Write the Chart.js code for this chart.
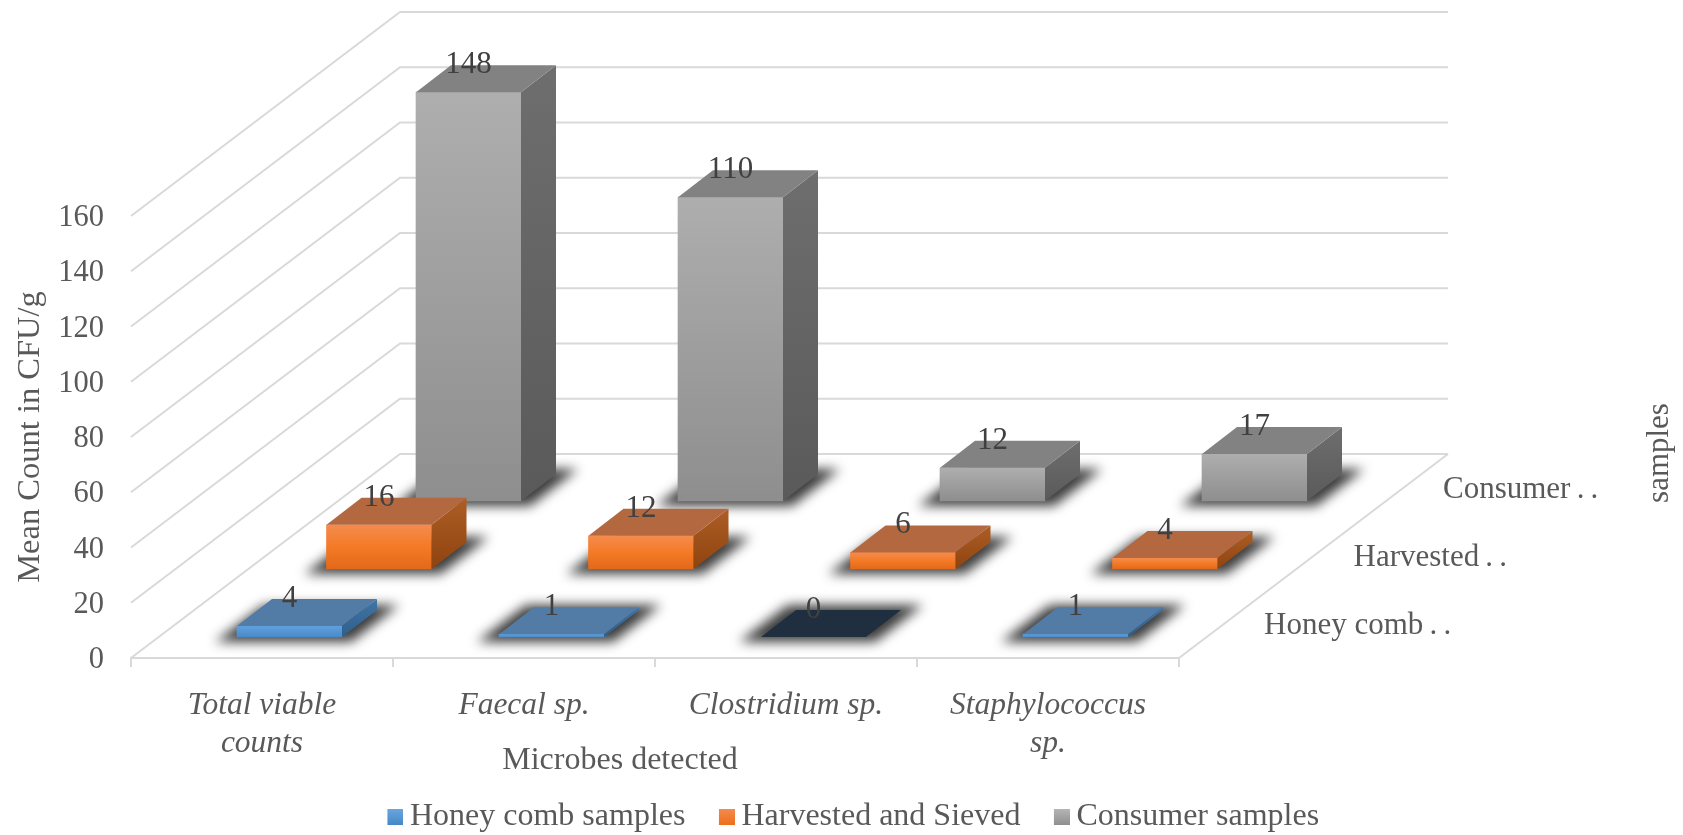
<!DOCTYPE html>
<html>
<head>
<meta charset="utf-8">
<title>Mean Count in CFU/g</title>
<script src="https://cdn.jsdelivr.net/npm/chart.js@4/dist/chart.umd.min.js"></script>
<style>
  html, body { margin: 0; padding: 0; background: #fff; }
  canvas { display: block; }
</style>
</head>
<body>
<canvas id="chart" width="1683" height="835"></canvas>
<script>
// ============ DATA ============
const categories = [['Total viable', 'counts'], ['Faecal sp.'], ['Clostridium sp.'], ['Staphylococcus', 'sp.']];
const seriesNames = ['Honey comb samples', 'Harvested and Sieved', 'Consumer samples'];
const honeyValues = [4, 1, 0, 1];
const harvestedValues = [16, 12, 6, 4];
const consumerValues = [148, 110, 12, 17];
const depthLabels = ['Honey comb\u2009.\u2009.', 'Harvested\u2009.\u2009.', 'Consumer\u2009.\u2009.'];

// ============ 3D LOOK ============
const WALL_DX = 269, WALL_DY = 204;     // floor depth, front edge to back wall
const ROW_DX = 89.5, ROW_DY = 68;       // one series row further back
const FIRST_DX = 27.5, FIRST_DY = 21;   // first row, from the front edge
const BAR_DX = 35, BAR_DY = 27;         // depth of a single bar
const GRID = '#D9D9D9';
const TEXT = '#595959';
const FONT = '"Liberation Serif", "Times New Roman", serif';

const faces = [
  { front: ['#5FA0DC', '#4A8ACB'], top: '#527CA6', side: ['#3F75A6', '#2F5F8C'], swatch: ['#6AA6DE', '#4488C8'] },
  { front: ['#F58B4E', '#F47A26', '#E2691A'], top: '#B4683F', side: ['#AD5E26', '#8F430E'], swatch: ['#F38B4F', '#EE6E1B'] },
  { front: ['#AEAEAE', '#8E8E8E'], top: '#828282', side: ['#6E6E6E', '#5A5A5A'], swatch: ['#B5B5B5', '#8F8F8F'] }
];
const zeroTop = '#1F2F40';

function rowDx(i) { return FIRST_DX + ROW_DX * i; }
function rowDy(i) { return FIRST_DY + ROW_DY * i; }

function frontFill(i) {
  return function (c) {
    const stops = faces[i].front;
    if (!c.parsed) return stops[0];
    const y = c.chart.scales.y;
    const g = c.chart.ctx.createLinearGradient(0, y.getPixelForValue(c.parsed.y), 0, y.getPixelForValue(0));
    stops.forEach((s, k) => g.addColorStop(k / (stops.length - 1), s));
    return g;
  };
}

// legend swatch, drawn off centre so it sits close to its text
function makeSwatch(stops) {
  const cv = document.createElement('canvas');
  cv.width = 20; cv.height = 16;
  const cx = cv.getContext('2d');
  const g = cx.createLinearGradient(0, 0, 0, 16);
  g.addColorStop(0, stops[0]);
  g.addColorStop(1, stops[1]);
  cx.fillStyle = g;
  cx.fillRect(4, 0, 16, 16);
  return cv;
}

function poly(ctx, pts) {
  ctx.beginPath();
  pts.forEach((p, k) => k ? ctx.lineTo(p[0], p[1]) : ctx.moveTo(p[0], p[1]));
  ctx.closePath();
}

// back wall, side wall and floor, taken from the y axis ticks
const wallsPlugin = {
  id: 'walls',
  beforeDatasetsDraw(chart) {
    const { ctx, scales: { x, y } } = chart;
    const left = x.left, right = x.right;
    ctx.save();
    ctx.strokeStyle = GRID;
    ctx.lineWidth = 2;
    y.ticks.forEach(t => {
      const py = y.getPixelForValue(t.value);
      ctx.beginPath();
      ctx.moveTo(left, py);
      ctx.lineTo(left + WALL_DX, py - WALL_DY);
      ctx.lineTo(right + WALL_DX, py - WALL_DY);
      ctx.stroke();
    });
    const p0 = y.getPixelForValue(0);
    ctx.beginPath();
    ctx.moveTo(right, p0);
    ctx.lineTo(right + WALL_DX, p0 - WALL_DY);
    ctx.stroke();
    ctx.restore();
  }
};

// each series sits on its own row of the floor
const depthPlugin = {
  id: 'depth',
  afterLayout(chart) {
    const lg = chart.legend;
    lg.left = 29; lg.right = 1683; lg.top = 762; lg.bottom = 835;
  },
  beforeDatasetDraw(chart, args) {
    const i = args.index, ctx = chart.ctx;
    ctx.save();
    ctx.translate(rowDx(i), -rowDy(i));
    args.meta.data.forEach(bar => {
      const p = bar.getProps(['x', 'base', 'width'], true);
      const l = p.x - p.width / 2, b = p.base;
      ctx.save();
      ctx.filter = 'blur(6px)';
      ctx.fillStyle = 'rgba(0,0,0,0.76)';
      poly(ctx, [[l - 22, b + 5], [l + p.width + 9, b + 5], [l + p.width + BAR_DX + 22, b - BAR_DY - 5], [l + 27, b - BAR_DY - 5]]);
      ctx.fill();
      ctx.restore();
    });
  },
  afterDatasetDraw(chart, args) {
    const i = args.index, ctx = chart.ctx, face = faces[i];
    args.meta.data.forEach((bar, j) => {
      const p = bar.getProps(['x', 'y', 'base', 'width'], true);
      const l = p.x - p.width / 2, r = p.x + p.width / 2;
      const value = chart.data.datasets[i].data[j];
      if (value > 0) {
        const g = ctx.createLinearGradient(0, p.y - BAR_DY, 0, p.base);
        g.addColorStop(0, face.side[0]);
        g.addColorStop(1, face.side[1]);
        ctx.fillStyle = g;
        poly(ctx, [[r, p.y], [r + BAR_DX, p.y - BAR_DY], [r + BAR_DX, p.base - BAR_DY], [r, p.base]]);
        ctx.fill();
      }
      ctx.fillStyle = value > 0 ? face.top : zeroTop;
      poly(ctx, [[l, p.y], [r, p.y], [r + BAR_DX, p.y - BAR_DY], [l + BAR_DX, p.y - BAR_DY]]);
      ctx.fill();
    });
    ctx.restore();
  },
  afterDatasetsDraw(chart) {
    const ctx = chart.ctx, { x, y } = chart.scales;
    ctx.save();
    // value labels
    ctx.font = '31px ' + FONT;
    ctx.fillStyle = '#404040';
    ctx.textAlign = 'center';
    ctx.textBaseline = 'alphabetic';
    chart.data.datasets.forEach((ds, i) => {
      chart.getDatasetMeta(i).data.forEach((bar, j) => {
        ctx.fillText(String(ds.data[j]), bar.x + rowDx(i), y.getPixelForValue(ds.data[j]) - rowDy(i) - 19);
      });
    });
    // depth axis labels
    ctx.fillStyle = TEXT;
    ctx.textAlign = 'left';
    ctx.textBaseline = 'middle';
    const p0 = y.getPixelForValue(0);
    depthLabels.forEach((s, i) => {
      ctx.fillText(s, x.right + 85 + ROW_DX * i, p0 - 32 - ROW_DY * i);
    });
    // axis titles the library cannot place off centre
    ctx.textAlign = 'center';
    ctx.font = '32px ' + FONT;
    ctx.fillText('Microbes detected', 620, 761);
    ctx.font = '31px ' + FONT;
    ctx.translate(1660, 453);
    ctx.rotate(-Math.PI / 2);
    ctx.fillText('samples', 0, 0);
    ctx.restore();
  }
};

Chart.defaults.font.family = FONT;
Chart.defaults.color = TEXT;
Chart.defaults.animation = false;

new Chart(document.getElementById('chart'), {
  type: 'bar',
  data: {
    labels: categories,
    datasets: [honeyValues, harvestedValues, consumerValues].map((vals, i) => ({
      label: seriesNames[i],
      data: vals,
      backgroundColor: frontFill(i),
      borderWidth: 0,
      barThickness: 105,
      grouped: false,
      clip: false
    }))
  },
  options: {
    responsive: false,
    layout: { padding: { left: 11, top: 216, right: 504, bottom: -10 } },
    plugins: {
      tooltip: { enabled: false },
      legend: {
        position: 'bottom',
        labels: {
          usePointStyle: true,
          pointStyleWidth: 1,
          padding: 39,
          color: TEXT,
          font: { size: 32 },
          generateLabels(chart) {
            return chart.data.datasets.map((ds, i) => ({
              text: ds.label,
              datasetIndex: i,
              fillStyle: faces[i].swatch[0],
              strokeStyle: 'transparent',
              fontColor: TEXT,
              lineWidth: 0,
              hidden: false,
              pointStyle: makeSwatch(faces[i].swatch)
            }));
          }
        }
      }
    },
    scales: {
      x: {
        afterFit(s) { s.height = 106; },
        border: { display: true, color: GRID, width: 2 },
        grid: { drawOnChartArea: false, drawTicks: true, tickLength: 9, color: GRID, lineWidth: 2 },
        ticks: { maxRotation: 0, autoSkip: false, padding: 20, color: TEXT, font: { size: 31.5, style: 'italic' } }
      },
      y: {
        min: 0,
        max: 160,
        afterFit(s) { s.width = 120; },
        border: { display: false },
        grid: { display: false, drawTicks: false },
        ticks: { stepSize: 20, padding: 27, labelOffset: 2, color: TEXT, font: { size: 30.5 } },
        title: { display: true, text: 'Mean Count in CFU/g', color: TEXT, padding: 0, font: { size: 32.5 } }
      }
    }
  },
  plugins: [wallsPlugin, depthPlugin]
});
</script>
</body>
</html>
